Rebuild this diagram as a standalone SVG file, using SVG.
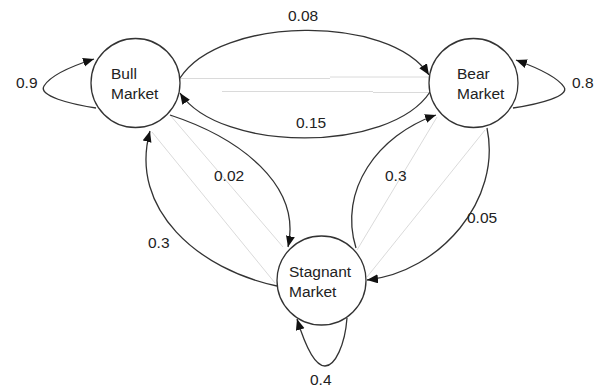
<svg xmlns="http://www.w3.org/2000/svg" width="603" height="392" viewBox="0 0 603 392">
<style>
.node{fill:#fff;stroke:#333;stroke-width:1.3}
.edge{fill:none;stroke:#333;stroke-width:1.3}
.faint{fill:none;stroke:#d0d0d0;stroke-width:0.8}
text{font-family:"Liberation Sans",Arial,sans-serif;font-size:15.5px;fill:#222}
</style>
<defs>
<marker id="arr" markerUnits="userSpaceOnUse" markerWidth="12" markerHeight="10" refX="11" refY="4.5" orient="auto">
<path d="M0,0 L11,4.5 L0,9 Z" fill="#111"/>
</marker>
</defs>
<g id="connectors">
<g id="faint-lines">
<line class="faint" x1="180" y1="78.5" x2="330" y2="78.5"/>
<line class="faint" x1="330" y1="77" x2="430" y2="77"/>
<line class="faint" x1="222" y1="91.5" x2="373" y2="91.5"/>
<line class="faint" x1="373" y1="92.5" x2="430" y2="92.5"/>
<line class="faint" x1="170" y1="115" x2="283" y2="247"/>
<line class="faint" x1="152" y1="132" x2="275" y2="283"/>
<line class="faint" x1="437" y1="117" x2="357" y2="250"/>
<line class="faint" x1="485" y1="130" x2="367" y2="277"/>
</g>
<path id="e-bull-bull" class="edge" marker-end="url(#arr)" d="M96,108 C70,104 38,96 44,86 C50,76 72,66 94,59"/>
<path id="e-bear-bear" class="edge" marker-end="url(#arr)" d="M513,108 C540,104 570,96 564,87 C558,78 538,68 516,60"/>
<path id="e-bull-bear" class="edge" marker-end="url(#arr)" d="M180,78 C220,16 390,14 429,75"/>
<path id="e-bear-bull" class="edge" marker-end="url(#arr)" d="M430,92 C390,153 220,153 180,93"/>
<path id="e-bull-stag" class="edge" marker-end="url(#arr)" d="M170,115 C240,138 302,185 288,247"/>
<path id="e-stag-bull" class="edge" marker-end="url(#arr)" d="M277,286 C200,270 128,210 150,131"/>
<path id="e-stag-bear" class="edge" marker-end="url(#arr)" d="M356,248 C338,190 378,135 436,115"/>
<path id="e-bear-stag" class="edge" marker-end="url(#arr)" d="M487,128 C502,200 440,272 367,280"/>
<path id="e-stag-stag" class="edge" marker-end="url(#arr)" d="M347,318 C345,345 335,366 325,366 C315,366 305,345 297,319"/>
<text x="16" y="88">0.9</text>
<text x="572" y="88">0.8</text>
<text x="288" y="21">0.08</text>
<text x="296" y="128">0.15</text>
<text x="214" y="181">0.02</text>
<text x="148" y="248">0.3</text>
<text x="385" y="181">0.3</text>
<text x="467" y="223">0.05</text>
<text x="310" y="385">0.4</text>
</g>
<g id="bull">
<circle class="node" cx="135.5" cy="83" r="44.5"/>
<text x="111" y="79">Bull</text>
<text x="111" y="99">Market</text>
</g>
<g id="bear">
<circle class="node" cx="473.5" cy="83" r="44.5"/>
<text x="457" y="79">Bear</text>
<text x="457" y="99">Market</text>
</g>
<g id="stagnant">
<circle class="node" cx="321.5" cy="280.5" r="44.5"/>
<text x="289" y="277">Stagnant</text>
<text x="289" y="297">Market</text>
</g>
</svg>
